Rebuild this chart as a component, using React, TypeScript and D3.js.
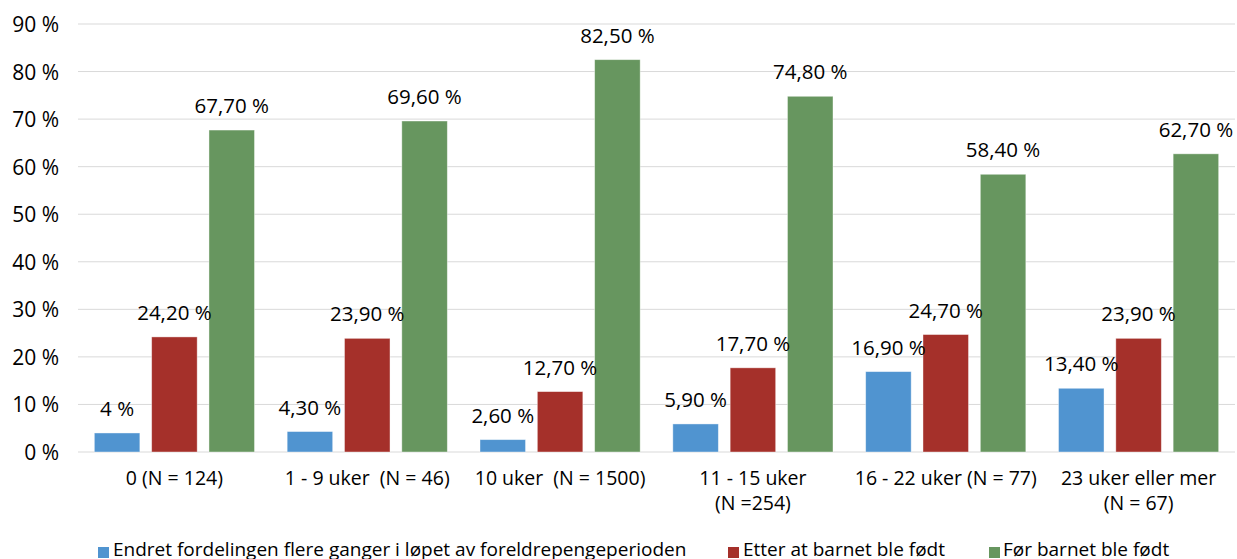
import React from "react";
import * as d3 from "d3";

const categories: string[][] = [
  ["0 (N = 124)"],
  ["1 - 9 uker\u00A0 (N = 46)"],
  ["10 uker\u00A0 (N = 1500)"],
  ["11 - 15 uker", "(N =254)"],
  ["16 - 22 uker (N = 77)"],
  ["23 uker eller mer", "(N = 67)"],
];
const seriesNames = [
  "Endret fordelingen flere ganger i løpet av foreldrepengeperioden",
  "Etter at barnet ble født",
  "Før barnet ble født",
];
const blueValues = [4, 4.3, 2.6, 5.9, 16.9, 13.4];
const redValues = [24.2, 23.9, 12.7, 17.7, 24.7, 23.9];
const greenValues = [67.7, 69.6, 82.5, 74.8, 58.4, 62.7];
const blueLabels = ["4 %", "4,30 %", "2,60 %", "5,90 %", "16,90 %", "13,40 %"];
const redLabels = ["24,20 %", "23,90 %", "12,70 %", "17,70 %", "24,70 %", "23,90 %"];
const greenLabels = ["67,70 %", "69,60 %", "82,50 %", "74,80 %", "58,40 %", "62,70 %"];
const yTicks = [0, 10, 20, 30, 40, 50, 60, 70, 80, 90];

const colors = ["#5094D0", "#A5302A", "#67965F"];
const FONT = "'Open Sans', 'Noto Sans', sans-serif";

export default function App() {
  const W = 1237;
  const H = 559;
  const x0 = d3
    .scaleBand<number>()
    .domain(categories.map((_, i) => i))
    .range([78, 1235]);
  const x1 = d3
    .scaleBand<number>()
    .domain([0, 1, 2])
    .range([0, x0.bandwidth()])
    .paddingInner(0.206)
    .paddingOuter(0.285);
  const y = d3.scaleLinear().domain([0, 90]).range([452, 24]);

  const series = [
    { values: blueValues, labels: blueLabels },
    { values: redValues, labels: redLabels },
    { values: greenValues, labels: greenLabels },
  ];

  const legendItems = [
    { sx: 98, tx: 113 },
    { sx: 728, tx: 743 },
    { sx: 989, tx: 1003 },
  ];

  return (
    <svg
      width={W}
      height={H}
      style={{ position: "absolute", left: 0, top: 0, background: "#fff" }}
      fontFamily={FONT}
    >
      {yTicks.map((t) => (
        <g key={t}>
          <line x1={78} x2={1235} y1={y(t)} y2={y(t)} stroke="#D9D9D9" strokeWidth={1} />
          <text
            x={59}
            y={y(t)}
            textAnchor="end"
            dominantBaseline="central"
            fontSize={21}
            fill="#000"
          >
            {`${t} %`}
          </text>
        </g>
      ))}
      {series.map((s, si) =>
        s.values.map((v, ci) => (
          <rect
            key={`${si}-${ci}`}
            x={(x0(ci) as number) + (x1(si) as number)}
            y={y(v)}
            width={x1.bandwidth()}
            height={y(0) - y(v)}
            fill={colors[si]}
            stroke="#fff"
            strokeOpacity={0.5}
            strokeWidth={0.8}
          />
        ))
      )}
      {series.map((s, si) =>
        s.values.map((v, ci) => (
          <text
            key={`l-${si}-${ci}`}
            x={(x0(ci) as number) + (x1(si) as number) + x1.bandwidth() / 2}
            y={y(v) - 17}
            textAnchor="middle"
            fontSize={20.5}
            fill="#000"
          >
            {s.labels[ci]}
          </text>
        ))
      )}
      {categories.map((lines, ci) => (
        <text
          key={`c-${ci}`}
          x={(x0(ci) as number) + x0.bandwidth() / 2}
          y={485}
          textAnchor="middle"
          fontSize={19.5}
          fill="#000"
        >
          {lines.map((ln, li) => (
            <tspan key={li} x={(x0(ci) as number) + x0.bandwidth() / 2} dy={li === 0 ? 0 : 25}>
              {ln}
            </tspan>
          ))}
        </text>
      ))}
      {seriesNames.map((name, si) => (
        <g key={`lg-${si}`}>
          <rect x={legendItems[si].sx} y={547} width={11} height={11} fill={colors[si]} />
          <text x={legendItems[si].tx} y={556} fontSize={19} fill="#000">
            {name}
          </text>
        </g>
      ))}
    </svg>
  );
}
